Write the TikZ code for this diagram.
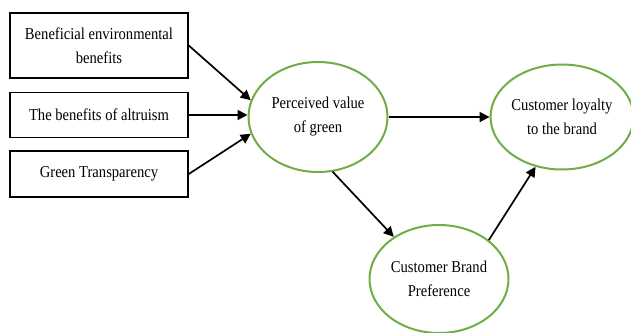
\documentclass[tikz,border=0pt]{standalone}
\usepackage{fontspec}
\setmainfont[FakeStretch=0.88]{Liberation Serif}
\usetikzlibrary{arrows.meta,shapes.geometric}
\definecolor{grn}{HTML}{70AD47}
\begin{document}
\begin{tikzpicture}[x=1pt,y=-1pt,
  txt/.style={font=\fontsize{16.6}{24}\selectfont, align=center},
  boxn/.style={draw=black, line width=1.5pt, minimum width=178pt, inner sep=0pt, txt},
  ell/.style={draw=grn, line width=2pt, ellipse, minimum width=139pt, minimum height=110pt, inner sep=0pt, txt},
  arr/.style={-{Triangle[length=10pt,width=10pt]}, line width=1.7pt}]
\useasboundingbox (0,0) rectangle (631,332);
\node[boxn, minimum height=65pt] (b1) at (99,45.5) {Beneficial environmental\\benefits};
\node[boxn, minimum height=45pt] (b2) at (99,115) {The benefits of altruism};
\node[boxn, minimum height=46pt] (b3) at (99,174) {Green Transparency};
\node[ell] (e1) at (318,117) {Perceived value\\of green};
\node[ell, minimum width=136pt, minimum height=105pt] (e2) at (562,117) {Customer loyalty\\to the brand};
\node[ell, minimum height=108pt] (e3) at (439,279) {Customer Brand\\Preference};
\draw[arr] (b1.east) -- (e1.166);
\draw[arr] (b2.east) -- (b2.east -| e1.west);
\draw[arr] (b3.east) -- (e1.194);
\draw[arr] (e1.east) -- (e2.west);
\draw[arr] (e1.-75) -- (e3.137);
\draw[arr] (e3.38) -- (e2.-118);
\end{tikzpicture}
\end{document}
